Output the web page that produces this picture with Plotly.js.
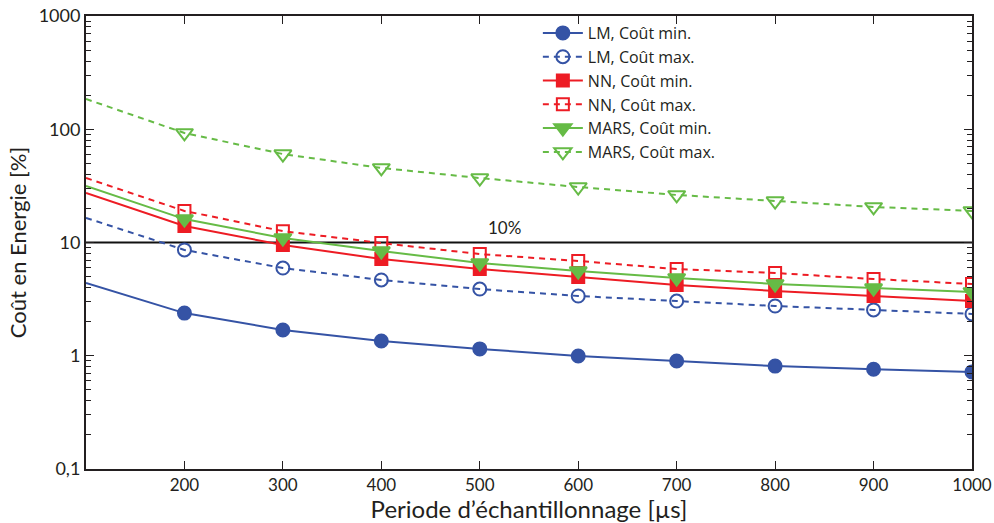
<!DOCTYPE html>
<html>
<head>
<meta charset="utf-8">
<script src="https://cdn.plot.ly/plotly-3.0.1.min.js"></script>
<style>body{margin:0;padding:0;background:#fff;} #chart{width:994px;height:523px;}</style>
</head>
<body>
<div id="chart"></div>
<script>
// Sampling period [µs]
const periods = [100, 200, 300, 400, 500, 600, 700, 800, 900, 1000];
// Energy cost [%]
const lmMin   = [4.4, 2.38, 1.69, 1.35, 1.15, 0.995, 0.90, 0.81, 0.76, 0.72];
const lmMax   = [16.5, 8.6, 5.95, 4.67, 3.88, 3.37, 3.04, 2.75, 2.54, 2.34];
const nnMin   = [27.4, 14.0, 9.5, 7.15, 5.83, 4.96, 4.21, 3.73, 3.37, 3.04];
const nnMax   = [37.1, 19.0, 12.6, 9.9, 7.9, 6.87, 5.83, 5.38, 4.76, 4.30];
const marsMin = [31.5, 16.1, 10.96, 8.41, 6.59, 5.6, 4.86, 4.30, 3.96, 3.66];
const marsMax = [185, 92.7, 60.4, 45.5, 37.1, 30.9, 26.3, 23.2, 20.6, 19.0];
const thresholdX = [100, 1000];
const thresholdY = [10, 10];
const seriesNames = ["LM, Coût min.", "LM, Coût max.", "NN, Coût min.", "NN, Coût max.", "MARS, Coût min.", "MARS, Coût max."];
const yTickVals = [0.1, 1, 10, 100, 1000];
const yTickText = ["0,1", "1", "10", "100", "1000"];
const xTickVals = [200, 300, 400, 500, 600, 700, 800, 900, 1000];

const BLUE = "#3553a5", RED = "#ed1c24", GREEN = "#66bb46";
const DASH = "6px,5px";

const series = [
  {y: lmMin,   color: BLUE,  dash: "solid", symbol: "circle",             size: 13},
  {y: lmMax,   color: BLUE,  dash: DASH,    symbol: "circle-open",        size: 13},
  {y: nnMin,   color: RED,   dash: "solid", symbol: "square",             size: 12},
  {y: nnMax,   color: RED,   dash: DASH,    symbol: "square-open",        size: 12},
  {y: marsMin, color: GREEN, dash: "solid", symbol: "triangle-down",      size: 15},
  {y: marsMax, color: GREEN, dash: DASH,    symbol: "triangle-down-open", size: 15}
];

const traces = [];
traces.push({x: thresholdX, y: thresholdY, mode: "lines", line: {color: "#111", width: 2.2}, showlegend: false, hoverinfo: "skip"});
series.forEach((s, i) => {
  traces.push({x: periods, y: s.y, mode: "lines", line: {color: s.color, width: 2, dash: s.dash}, showlegend: false});
  traces.push({x: periods.slice(1), y: s.y.slice(1), mode: "markers",
    marker: {color: s.color, symbol: s.symbol, size: s.size, line: {color: s.color, width: 2}}, showlegend: false});
});
series.forEach((s, i) => {
  traces.push({x: [null], y: [null], name: seriesNames[i], mode: "lines+markers",
    line: {color: s.color, width: 2, dash: s.dash},
    marker: {color: s.color, symbol: s.symbol, size: s.size, line: {color: s.color, width: 2}},
    legendgroup: "g" + i});
});

const minorVals = [];
for (let d = -1; d < 3; d++) for (let k = 2; k <= 9; k++) minorVals.push(k * Math.pow(10, d));

const FONT = "Lato, Open Sans, sans-serif";
const layout = {
  width: 994, height: 523,
  margin: {l: 86, r: 22, t: 16, b: 54},
  paper_bgcolor: "#fff", plot_bgcolor: "#fff",
  font: {family: FONT, color: "#231f20"},
  showlegend: true,
  legend: {x: 0.51, y: 1.0, xanchor: "left", yanchor: "top", bgcolor: "rgba(255,255,255,0)",
    font: {size: 16, family: "Open Sans, sans-serif", color: "#231f20"}, traceorder: "grouped", tracegroupgap: 0, itemwidth: 40},
  xaxis: {
    range: [100, 1000], tickvals: xTickVals, ticks: "inside", ticklen: 8, tickwidth: 1, tickcolor: "#231f20",
    showline: true, linecolor: "#231f20", linewidth: 2, mirror: "ticks", showgrid: false, zeroline: false,
    tickfont: {size: 17}, title: {text: "Periode d’échantillonnage [µs]", font: {size: 24}, standoff: 1}
  },
  yaxis: {
    type: "log", range: [-1, 3], tickvals: yTickVals, ticktext: yTickText, ticks: "inside", ticklen: 8, tickwidth: 1,
    tickcolor: "#231f20", showline: true, linecolor: "#231f20", linewidth: 2, mirror: "ticks", showgrid: false,
    zeroline: false, tickfont: {size: 18},
    minor: {tickvals: minorVals, ticks: "inside", ticklen: 5, tickwidth: 1, tickcolor: "#231f20", showgrid: false},
    title: {text: "Coût en Energie [%]", font: {size: 22}, standoff: 6}
  },
  annotations: [{x: 525, y: Math.log10(13.7), xref: "x", yref: "y", text: "10%", showarrow: false, font: {size: 17, color: "#231f20"}}]
};

Plotly.newPlot("chart", traces, layout, {displayModeBar: false, staticPlot: true});
</script>
</body>
</html>
